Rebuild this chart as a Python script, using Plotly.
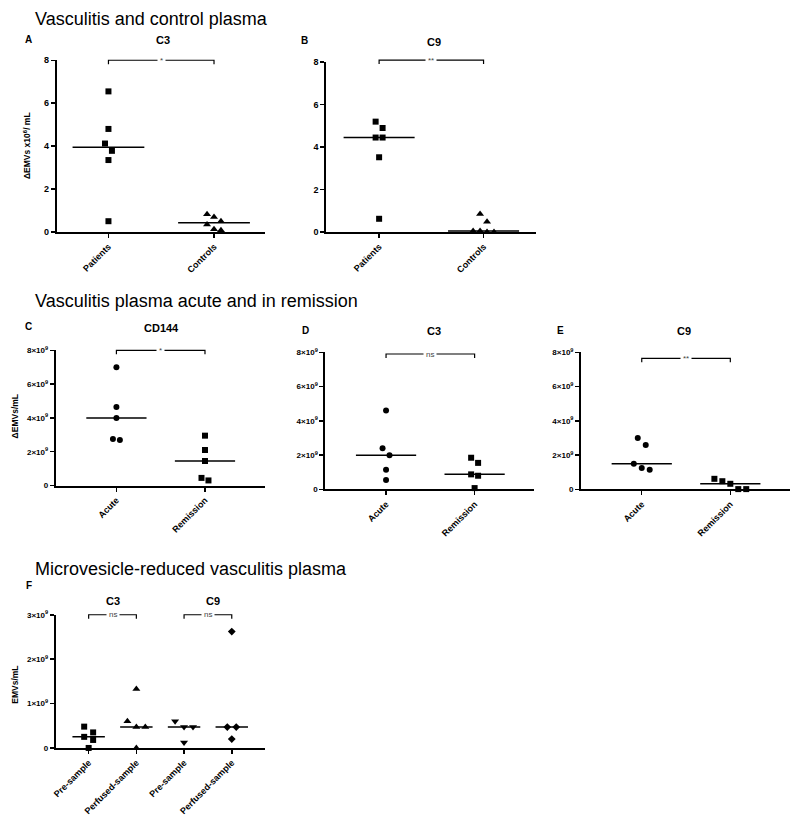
import numpy as np
import plotly.graph_objects as go

W, H = 793, 823

# ---------------- data ----------------
ab_cats = ["Patients", "Controls"]
a_patients = [6.55, 4.8, 4.12, 3.78, 3.35, 0.5]
a_controls = [0.82, 0.7, 0.5, 0.35, 0.12, 0.08]
b_patients = [5.2, 4.9, 4.45, 4.45, 3.52, 0.62]
b_controls = [0.85, 0.48, 0.05, 0.05, 0.0, 0.0]

cde_cats = ["Acute", "Remission"]
c_acute = [7.0e9, 4.65e9, 4.0e9, 2.75e9, 2.7e9]
c_remission = [2.95e9, 2.1e9, 1.45e9, 0.45e9, 0.3e9]
d_acute = [4.6e9, 2.4e9, 2.0e9, 1.15e9, 0.55e9]
d_remission = [1.85e9, 1.55e9, 0.88e9, 0.8e9, 0.08e9]
e_acute = [3.0e9, 2.6e9, 1.5e9, 1.25e9, 1.15e9]
e_remission = [0.62e9, 0.48e9, 0.33e9, 0.02e9, 0.02e9]

f_cats = ["Pre-sample", "Perfused-sample", "Pre-sample", "Perfused-sample"]
f_c3_pre = [0.48e9, 0.35e9, 0.25e9, 0.18e9, 0.0]
f_c3_perf = [1.33e9, 0.6e9, 0.47e9, 0.47e9, 0.0]
f_c9_pre = [0.6e9, 0.47e9, 0.47e9, 0.12e9]
f_c9_perf = [2.62e9, 0.47e9, 0.47e9, 0.2e9]

ab_ticks = [0, 2, 4, 6, 8]
cde_ticks = [0, 2e9, 4e9, 6e9, 8e9]
f_ticks = [0, 1e9, 2e9, 3e9]

section_titles = ["Vasculitis and control plasma",
                  "Vasculitis plasma acute and in remission",
                  "Microvesicle-reduced vasculitis plasma"]

# ---------------- helpers ----------------
FONT = "Liberation Sans, Arial, sans-serif"


def sci_label(v):
    if v == 0:
        return "0"
    e = int(np.floor(np.log10(v)))
    m = v / 10 ** e
    return f"{m:g}×10<sup>{e}</sup>"


def swarm(vals, ymax, h_px, px_per_x, step_px, thr=8):
    order = sorted(range(len(vals)), key=lambda i: -vals[i])
    ppu = h_px / ymax
    rows = []
    for i in order:
        if rows and (vals[rows[-1][0]] - vals[i]) * ppu < thr:
            rows[-1].append(i)
        else:
            rows.append([i])
    off = [0.0] * len(vals)
    for r in rows:
        n = len(r)
        for k, i in enumerate(r):
            off[i] = (k - (n - 1) / 2) * step_px / px_per_x
    return off


panels = [
    dict(box=(53, 262, 55, 229), xr=(-0.49, 1.48), ymax=8, ticks=ab_ticks, sci=False,
         cats=ab_cats, groups=[(a_patients, "square"), (a_controls, "triangle-up")],
         brackets=[(0, 1, 8.0, "*")], letter=("A", 25, 34), title=("C3", 160, 34),
         ytitle=("ΔEMVs x10<sup>6</sup>/ mL", 23, 141), step=7, thr=8),
    dict(box=(324, 535, 57, 229), xr=(-0.505, 1.505), ymax=8, ticks=ab_ticks, sci=False,
         cats=ab_cats, groups=[(b_patients, "square"), (b_controls, "triangle-up")],
         brackets=[(0, 1, 8.1, "**")], letter=("B", 302, 35), title=("C9", 432, 36),
         ytitle=None, step=7, thr=8),
    dict(box=(52, 262, 349, 486), xr=(-0.685, 1.674), ymax=8e9, ticks=cde_ticks, sci=True,
         cats=cde_cats, groups=[(c_acute, "circle"), (c_remission, "square")],
         brackets=[(0, 1, 8e9, "*")], letter=("C", 25, 325), title=("CD144", 158, 326),
         ytitle=("ΔEMVs/mL", 12, 416), step=7, thr=8),
    dict(box=(323, 533, 351, 490), xr=(-0.685, 1.674), ymax=8e9, ticks=cde_ticks, sci=True,
         cats=cde_cats, groups=[(d_acute, "circle"), (d_remission, "square")],
         brackets=[(0, 1, 7.9e9, "ns")], letter=("D", 303, 329), title=("C3", 432, 329),
         ytitle=None, step=7, thr=8),
    dict(box=(580, 790, 351, 490), xr=(-0.685, 1.674), ymax=8e9, ticks=cde_ticks, sci=True,
         cats=cde_cats, groups=[(e_acute, "circle"), (e_remission, "square")],
         brackets=[(0, 1, 7.65e9, "**")], letter=("E", 559, 329), title=("C9", 683, 329),
         ytitle=None, step=8, thr=11),
    dict(box=(52, 262, 617, 752), xr=(-0.69, 3.69), ymax=3e9, ticks=f_ticks, sci=True,
         cats=f_cats, groups=[(f_c3_pre, "square"), (f_c3_perf, "triangle-up"),
                              (f_c9_pre, "triangle-down"), (f_c9_perf, "diamond")],
         brackets=[(0, 1, 3e9, "ns"), (2, 3, 3e9, "ns")], letter=("F", 25, 587),
         title=None, ytitle=("EMVs/mL", 11, 688), step=9, thr=8),
]
f_group_titles = [("C3", 110, 603), ("C9", 210, 603)]

fig = go.Figure()
layout = dict(width=W, height=H, margin=dict(l=0, r=0, t=0, b=0),
              paper_bgcolor="white", plot_bgcolor="white", showlegend=False,
              font=dict(family=FONT, color="black"))
shapes, annotations = [], []


def ann(text, px, py, size, bold=True, **kw):
    txt = f"<b>{text}</b>" if bold else text
    d = dict(text=txt, x=px / W, y=1 - py / H, xref="paper", yref="paper",
             showarrow=False, xanchor="center", yanchor="middle",
             font=dict(family=FONT, size=size, color=kw.pop("color", "black")))
    d.update(kw)
    annotations.append(d)


for idx, p in enumerate(panels):
    n = idx + 1
    xa = "xaxis" if n == 1 else f"xaxis{n}"
    ya = "yaxis" if n == 1 else f"yaxis{n}"
    xref = "x" if n == 1 else f"x{n}"
    yref = "y" if n == 1 else f"y{n}"
    x0, x1, yt, yb = p["box"]
    w_px, h_px = x1 - x0, yb - yt
    xr0, xr1 = p["xr"]
    px_per_x = w_px / (xr1 - xr0)
    ticktext = [f"<b>{sci_label(t) if p['sci'] else format(t, 'g')}</b>" for t in p["ticks"]]
    layout[xa] = dict(domain=[x0 / W, x1 / W], range=[xr0, xr1], anchor=yref,
                      showgrid=False, zeroline=False, showline=True, linecolor="black",
                      linewidth=2, ticks="outside", ticklen=4, tickwidth=1.5,
                      tickcolor="black", tickvals=list(range(len(p["cats"]))),
                      ticktext=[f"<b>{c}</b>" for c in p["cats"]], tickangle=-45,
                      tickfont=dict(family=FONT, size=9))
    layout[ya] = dict(domain=[1 - yb / H, 1 - yt / H], range=[0, p["ymax"]], anchor=xref,
                      showgrid=False, zeroline=False, showline=True, linecolor="black",
                      linewidth=2, ticks="outside", ticklen=4, tickwidth=1.5,
                      tickcolor="black", tickvals=p["ticks"], ticktext=ticktext,
                      tickfont=dict(family=FONT, size=9 if not p["sci"] else 8))
    for gi, (vals, sym) in enumerate(p["groups"]):
        off = swarm(vals, p["ymax"], h_px, px_per_x, p["step"], p["thr"])
        xs = [gi + o for o in off]
        size = 6 if sym in ("square", "circle", "diamond") else 7
        fig.add_trace(go.Scatter(x=xs, y=vals, mode="markers", xaxis=xref, yaxis=yref,
                                 cliponaxis=False, hoverinfo="skip",
                                 marker=dict(symbol=sym, size=size, color="black",
                                             line=dict(width=0))))
        med = float(np.median(vals))
        shapes.append(dict(type="line", xref=xref, yref=yref, x0=gi - 0.34, x1=gi + 0.34,
                           y0=med, y1=med, line=dict(color="black", width=1.5)))
    # significance brackets (domain/paper coords so they are not clipped)
    dref = f"{xref} domain"
    for (c0, c1, yv, lab) in p["brackets"]:
        fx0 = (c0 - xr0) / (xr1 - xr0)
        fx1 = (c1 - xr0) / (xr1 - xr0)
        py = yb - yv / p["ymax"] * h_px
        ty, by = 1 - py / H, 1 - (py + 4) / H
        shapes.append(dict(type="path", xref=dref, yref="paper",
                           path=f"M {fx0},{by} L {fx0},{ty} L {fx1},{ty} L {fx1},{by}",
                           line=dict(color="black", width=1.2)))
        annotations.append(dict(text=lab, x=(fx0 + fx1) / 2, y=ty, xref=dref, yref="paper",
                                showarrow=False, xanchor="center", yanchor="middle",
                                bgcolor="white", borderpad=2,
                                font=dict(family=FONT, size=8, color="#444")))
    L, lx, ly = p["letter"]
    ann(L, lx, ly, 10)
    if p["title"]:
        t, tx, ty2 = p["title"]
        ann(t, tx, ty2, 11)
    if p["ytitle"]:
        t, tx, ty2 = p["ytitle"]
        ann(t, tx, ty2, 8.5, textangle=-90)

for (t, tx, ty2) in f_group_titles:
    ann(t, tx, ty2, 11)

for (t, py) in zip(section_titles, [13, 299, 571]):
    annotations.append(dict(text=t, x=29 / W, y=1 - py / H, xref="paper", yref="paper",
                            showarrow=False, xanchor="left", yanchor="middle",
                            font=dict(family=FONT, size=18, color="black")))

layout["shapes"] = shapes
layout["annotations"] = annotations
fig.update_layout(**layout)

post = """
var de=document.documentElement, b=document.body;
de.style.margin='0'; de.style.padding='0'; de.style.overflow='hidden';
b.style.margin='0'; b.style.padding='0'; b.style.overflow='hidden';
"""

fig.write_html("out.html", config={"displayModeBar": False, "staticPlot": True},
               post_script=post)
